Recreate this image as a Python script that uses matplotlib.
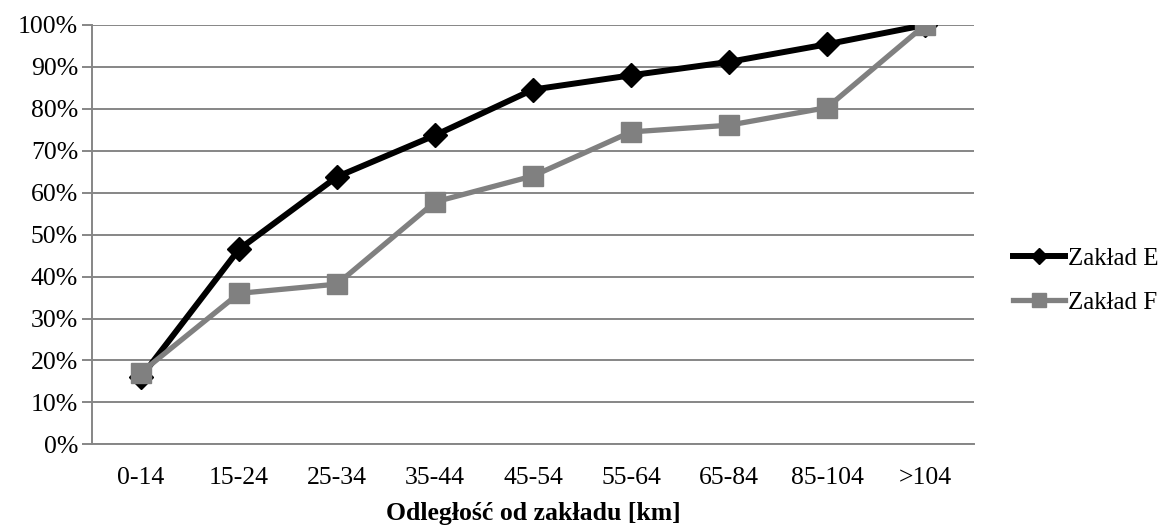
import matplotlib
matplotlib.use("Agg")
import matplotlib.pyplot as plt
from matplotlib.ticker import FuncFormatter

categories = ["0-14", "15-24", "25-34", "35-44", "45-54", "55-64", "65-84", "85-104", ">104"]
zaklad_e = [16.0, 46.5, 63.8, 73.7, 84.6, 88.0, 91.2, 95.4, 100.0]
zaklad_f = [17.1, 36.0, 38.2, 57.8, 64.0, 74.5, 76.1, 80.3, 100.0]
y_ticks = [0, 10, 20, 30, 40, 50, 60, 70, 80, 90, 100]

plt.rcParams["font.family"] = ["Liberation Serif", "DejaVu Serif"]

fig = plt.figure(figsize=(11.67, 5.27), dpi=100)
ax = fig.add_axes([92 / 1167, (527 - 444.3) / 527, (974 - 92) / 1167, (444.3 - 25) / 527])

x = list(range(len(categories)))
grid_col = "#868686"
fs = 18.5

ax.plot(x, zaklad_e, color="black", lw=4.3, marker="D", ms=12,
        solid_joinstyle="round", label="Zakład E", zorder=3)
ax.plot(x, zaklad_f, color="#808080", lw=3.8, marker="s", ms=14,
        label="Zakład F", zorder=3)

ax.set_xlim(-0.5, len(categories) - 0.5)
ax.set_ylim(0, 100)
ax.set_yticks(y_ticks)
ax.yaxis.set_major_formatter(FuncFormatter(lambda v, p: f"{v:.0f}%"))
ax.set_xticks(x)
ax.set_xticklabels(categories)

ax.grid(axis="y", color=grid_col, lw=1.4)
ax.set_axisbelow(True)
for s in ("top", "right"):
    ax.spines[s].set_visible(False)
ax.spines["left"].set_color(grid_col)
ax.spines["left"].set_linewidth(1.4)
ax.spines["bottom"].set_color(grid_col)
ax.spines["bottom"].set_linewidth(1.4)

ax.tick_params(axis="y", length=7, width=1.4, color=grid_col, labelsize=fs, pad=3)
ax.tick_params(axis="x", length=0, labelsize=fs, pad=16)

ax.set_xlabel("Odległość od zakładu [km]", fontsize=fs, fontweight="bold", labelpad=10)

leg = ax.legend(loc="center left", bbox_to_anchor=(1.044, 0.39), frameon=False,
                fontsize=18, handlelength=2.1, handletextpad=0.1, labelspacing=0.85,
                borderpad=0, borderaxespad=0, markerscale=0.7)

fig.savefig("out.png", dpi=100)
